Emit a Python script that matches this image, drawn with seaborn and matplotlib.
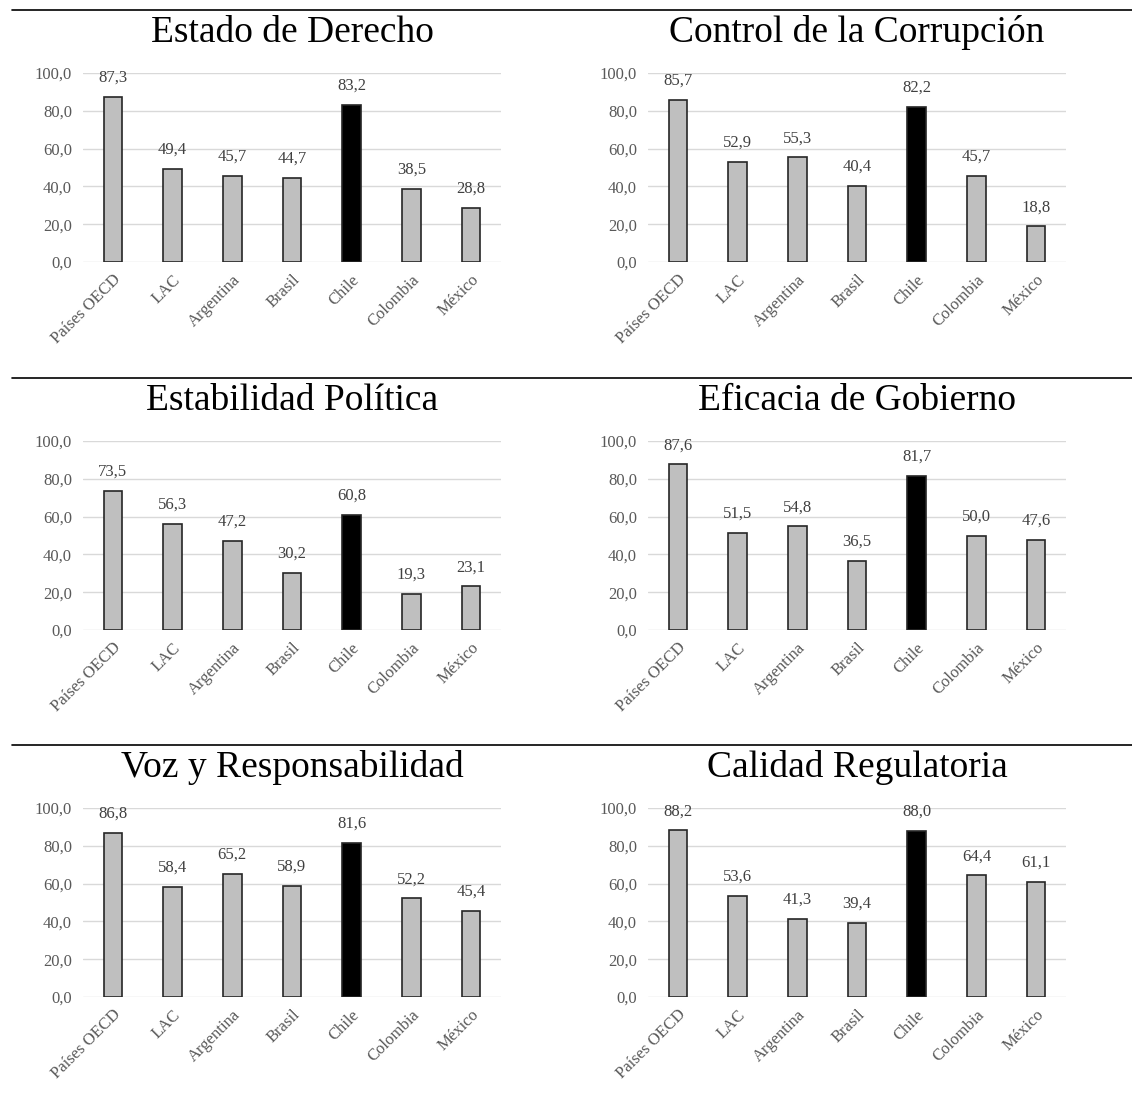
import numpy as np
import pandas as pd
import matplotlib
matplotlib.use("Agg")
import matplotlib.pyplot as plt
import seaborn as sns

# ─────────────────────────────────────────────
# data
# ─────────────────────────────────────────────
paises = ["Países OECD", "LAC", "Argentina", "Brasil", "Chile", "Colombia", "México"]

titulos = ["Estado de Derecho", "Control de la Corrupción",
           "Estabilidad Política", "Eficacia de Gobierno",
           "Voz y Responsabilidad", "Calidad Regulatoria"]

estado_derecho = [87.3, 49.4, 45.7, 44.7, 83.2, 38.5, 28.8]
control_corrupcion = [85.7, 52.9, 55.3, 40.4, 82.2, 45.7, 18.8]
estabilidad_politica = [73.5, 56.3, 47.2, 30.2, 60.8, 19.3, 23.1]
eficacia_gobierno = [87.6, 51.5, 54.8, 36.5, 81.7, 50.0, 47.6]
voz_responsabilidad = [86.8, 58.4, 65.2, 58.9, 81.6, 52.2, 45.4]
calidad_regulatoria = [88.2, 53.6, 41.3, 39.4, 88.0, 64.4, 61.1]

y_ticks = [0, 20, 40, 60, 80, 100]

series = [estado_derecho, control_corrupcion, estabilidad_politica,
          eficacia_gobierno, voz_responsabilidad, calidad_regulatoria]

sns.set_style("white")
plt.rcParams['font.family'] = ['Liberation Serif', 'DejaVu Serif']

W, H = 1132, 1110
fig = plt.figure(figsize=(W / 100, H / 100), dpi=100)

colores = {p: ("#000000" if p == "Chile" else "#BFBFBF") for p in paises}

col_x = [83, 648]
row_top = [73, 441, 808]
ax_w, ax_h = 418, 189
title_base = [42, 410, 777]
line_y = [10, 378, 745]


def coma(v):
    return f"{v:.1f}".replace(".", ",")


for i, (titulo, vals) in enumerate(zip(titulos, series)):
    r, c = divmod(i, 2)
    left = col_x[c] / W
    bottom = 1 - (row_top[r] + ax_h) / H
    ax = fig.add_axes([left, bottom, ax_w / W, ax_h / H])

    df = pd.DataFrame({"pais": paises, "valor": vals})
    sns.barplot(data=df, x="pais", y="valor", hue="pais", palette=colores,
                order=paises, hue_order=paises, legend=False, width=0.31,
                edgecolor="#262626", linewidth=1.2, ax=ax, zorder=3)

    ax.set_ylim(0, 100)
    ax.set_xlim(-0.5, len(paises) - 0.5)
    ax.set_yticks(y_ticks)
    ax.set_yticklabels([coma(t) for t in y_ticks])
    ax.yaxis.grid(True, color="#D9D9D9", linewidth=1.0, zorder=0)
    ax.set_axisbelow(True)
    for s in ax.spines.values():
        s.set_visible(False)
    ax.tick_params(axis="both", length=0, colors="#595959", labelsize=12)
    ax.tick_params(axis="y", pad=8)
    ax.set_xticks(range(len(paises)))
    ax.set_xticklabels(paises, rotation=45, ha="right", rotation_mode="anchor")
    ax.tick_params(axis="x", pad=7)
    ax.set_xlabel("")
    ax.set_ylabel("")

    for j, v in enumerate(vals):
        ax.annotate(coma(v), (j, v), xytext=(0, 8), textcoords="offset points",
                    ha="center", va="bottom", fontsize=12, color="#404040",
                    annotation_clip=False)

    cx = (col_x[c] + ax_w / 2) / W
    fig.text(cx, 1 - title_base[r] / H, titulo, ha="center", va="baseline",
             fontsize=27, color="#000000")

for y in line_y:
    fig.add_artist(plt.Line2D([12 / W, 1.0], [1 - y / H, 1 - y / H],
                              color="#000000", linewidth=1.2))

fig.savefig("out.png", dpi=100)
